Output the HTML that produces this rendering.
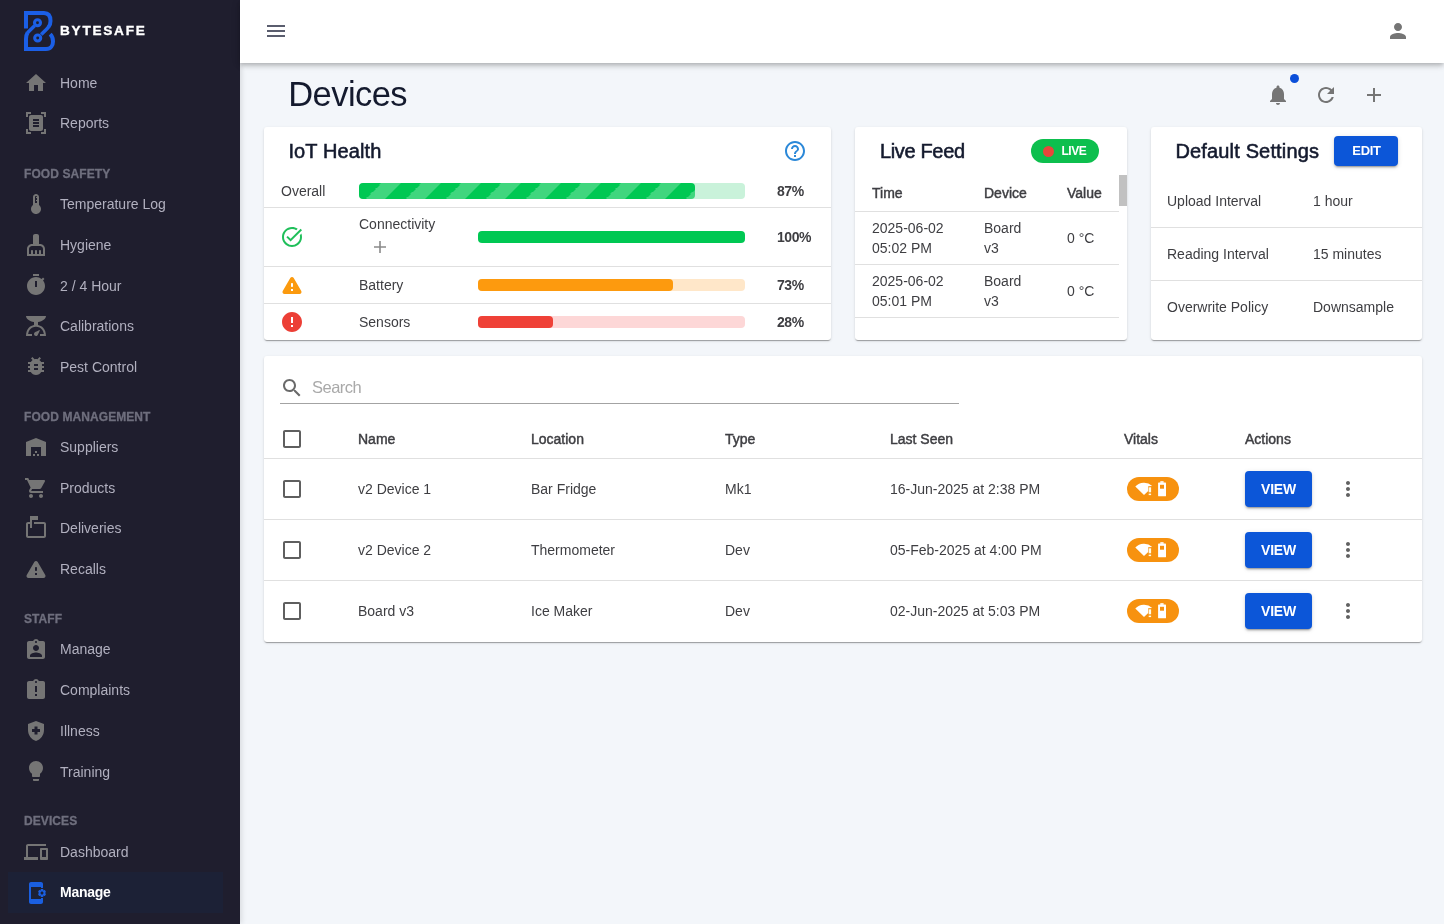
<!DOCTYPE html>
<html><head><meta charset="utf-8"><title>Devices</title>
<style>
html,body{margin:0;padding:0;}
body{width:1444px;height:924px;overflow:hidden;position:relative;background:#f3f6fa;font-family:"Liberation Sans", sans-serif;}
.t{position:absolute;white-space:nowrap;}
svg{display:block}
#root{position:absolute;left:0;top:0;width:1444px;height:924px;will-change:transform;}
</style></head><body><div id="root">
<div style="position:absolute;left:0px;top:0px;width:240px;height:924px;background:#1f1e2e;box-shadow:2px 0 5px rgba(0,0,0,.10)"></div>
<div style="position:absolute;left:8px;top:872px;width:215px;height:41px;background:#1c2136"></div>
<svg style="position:absolute;left:20px;top:8px" width="40" height="46" viewBox="0 0 40 46">
<g fill="none" stroke="#1b5fe6" stroke-width="4">
<path d="M6 20.5 V5 H24 C29 5 30.5 9 30.5 13 C30.5 15.5 29.8 17.5 28.5 19"/>
<path d="M7.6 24.6 C6.5 26.3 6 28 6 31 V41 H26 C31 41 33 37 33 33.5 C33 30.5 32 28 30.2 26.2" />
</g>
<g fill="none" stroke="#1b5fe6" stroke-width="3.5">
<path d="M28.8 18.6 C28 19.6 27.5 20.2 26.8 20.9 L21.2 26.6"/>
<path d="M14.6 17.8 L9 23.3 C8.3 24 7.9 24.5 7.5 25"/>
</g>
<g fill="none" stroke="#1b5fe6" stroke-width="3.1">
<circle cx="17.5" cy="14.7" r="3.0"/>
<circle cx="17.7" cy="30" r="3.0"/>
</g>
</svg>
<div class="t" style="left:60px;top:23.99px;font-size:13.6px;line-height:13.6px;font-weight:900;color:#ffffff;letter-spacing:1.75px;-webkit-text-stroke:0.35px #fff">BYTESAFE</div>
<svg style="position:absolute;left:24px;top:71px;" width="24" height="24" viewBox="0 0 24 24"><path fill="#757575" d="M10 20v-6h4v6h5v-8h3L12 3 2 12h3v8z"/></svg>
<div class="t" style="left:60px;top:76.25px;font-size:14px;line-height:14px;font-weight:400;color:#b1b0bf;">Home</div>
<svg style="position:absolute;left:24px;top:111px;" width="24" height="24" viewBox="0 0 24 24"><path fill="#757575" d="M7 3H4v3H2V1h5v2zm15 3V1h-5v2h3v3h2zM7 21H4v-3H2v5h5v-2zm13-3v3h-3v2h5v-5h-2zM19 18c0 1.1-.9 2-2 2H7c-1.1 0-2-.9-2-2V6c0-1.1.9-2 2-2h10c1.1 0 2 .9 2 2v12zM15 8H9v2h6V8zm0 3H9v2h6v-2zm0 3H9v2h6v-2z"/></svg>
<div class="t" style="left:60px;top:116.15px;font-size:14px;line-height:14px;font-weight:400;color:#b1b0bf;">Reports</div>
<div class="t" style="left:24px;top:167.84px;font-size:12px;line-height:12px;font-weight:700;color:#6f6f7e;letter-spacing:0.08px;-webkit-text-stroke:0.3px #6f6f7e">FOOD SAFETY</div>
<svg style="position:absolute;left:24px;top:192px;" width="24" height="24" viewBox="0 0 24 24"><path fill="#757575" d="M15 13V5c0-1.66-1.34-3-3-3S9 3.34 9 5v8c-1.21.91-2 2.37-2 4 0 2.76 2.24 5 5 5s5-2.24 5-5c0-1.63-.79-3.09-2-4zm-4-8c0-.55.45-1 1-1s1 .45 1 1h-1v1h1v2h-1v1h1v2h-2V5z"/></svg>
<div class="t" style="left:60px;top:197.45px;font-size:14px;line-height:14px;font-weight:400;color:#b1b0bf;">Temperature Log</div>
<svg style="position:absolute;left:24px;top:233px;" width="24" height="24" viewBox="0 0 24 24"><path fill="#757575" d="M16 11h-1V3c0-1.1-.9-2-2-2h-2c-1.1 0-2 .9-2 2v8H8c-2.76 0-5 2.24-5 5v7h18v-7c0-2.76-2.24-5-5-5zm3 10h-2v-3c0-.55-.45-1-1-1s-1 .45-1 1v3h-2v-3c0-.55-.45-1-1-1s-1 .45-1 1v3H9v-3c0-.55-.45-1-1-1s-1 .45-1 1v3H5v-5c0-1.65 1.35-3 3-3h8c1.65 0 3 1.35 3 3v5z"/></svg>
<div class="t" style="left:60px;top:238.15px;font-size:14px;line-height:14px;font-weight:400;color:#b1b0bf;">Hygiene</div>
<svg style="position:absolute;left:24px;top:273px;" width="24" height="24" viewBox="0 0 24 24"><path fill="#757575" d="M9 1h6v2H9zm10.03 6.39 1.42-1.42c-.43-.51-.9-.99-1.41-1.41l-1.42 1.42C16.07 4.74 14.12 4 12 4c-4.97 0-9 4.03-9 9s4.02 9 9 9 9-4.03 9-9c0-2.12-.74-4.07-1.97-5.61zM13 14h-2V8h2v6z"/></svg>
<div class="t" style="left:60px;top:278.65px;font-size:14px;line-height:14px;font-weight:400;color:#b1b0bf;">2 / 4 Hour</div>
<svg style="position:absolute;left:24px;top:314px;" width="24" height="24" viewBox="0 0 24 24"><path fill="#757575" d="M14 11V8c4.56-.58 8-3.1 8-6H2c0 2.9 3.44 5.42 8 6v3c-3.68.73-8 3.61-8 11h6v-2H4.13c.93-6.83 6.65-7.2 7.87-7.2s6.94.37 7.87 7.2H16v2h6c0-7.39-4.32-10.27-8-11zm-2 11c-1.1 0-2-.9-2-2 0-.55.22-1.05.59-1.41C11.39 17.79 16 16 16 16s-1.790 4.61-2.59 5.41c-.36.37-.86.59-1.41.59z"/></svg>
<div class="t" style="left:60px;top:319.15px;font-size:14px;line-height:14px;font-weight:400;color:#b1b0bf;">Calibrations</div>
<svg style="position:absolute;left:24px;top:354px;" width="24" height="24" viewBox="0 0 24 24"><path fill="#757575" d="M20 8h-2.81c-.45-.78-1.07-1.45-1.82-1.96L17 4.41 15.59 3l-2.17 2.17C12.96 5.06 12.49 5 12 5c-.49 0-.96.06-1.41.17L8.41 3 7 4.41l1.62 1.63C7.88 6.55 7.26 7.22 6.81 8H4v2h2.09c-.05.33-.09.66-.09 1v1H4v2h2v1c0 .34.04.67.09 1H4v2h2.81c1.04 1.79 2.97 3 5.19 3s4.15-1.21 5.19-3H20v-2h-2.09c.05-.33.09-.66.09-1v-1h2v-2h-2v-1c0-.34-.04-.67-.09-1H20V8zm-6 8h-4v-2h4v2zm0-4h-4v-2h4v2z"/></svg>
<div class="t" style="left:60px;top:359.55px;font-size:14px;line-height:14px;font-weight:400;color:#b1b0bf;">Pest Control</div>
<div class="t" style="left:24px;top:410.84px;font-size:12px;line-height:12px;font-weight:700;color:#6f6f7e;letter-spacing:0.08px;-webkit-text-stroke:0.3px #6f6f7e">FOOD MANAGEMENT</div>
<svg style="position:absolute;left:24px;top:435px;" width="24" height="24" viewBox="0 0 24 24"><path fill="#757575" d="M22 21V7L12 3 2 7v14h5v-9h10v9h5zm-11-2H9v2h2v-2zm2-3h-2v2h2v-2zm2 3h-2v2h2v-2z"/></svg>
<div class="t" style="left:60px;top:440.45px;font-size:14px;line-height:14px;font-weight:400;color:#b1b0bf;">Suppliers</div>
<svg style="position:absolute;left:24px;top:476px;" width="24" height="24" viewBox="0 0 24 24"><path fill="#757575" d="M7 18c-1.1 0-1.99.9-1.99 2S5.9 22 7 22s2-.9 2-2-.9-2-2-2zM1 2v2h2l3.6 7.59-1.35 2.45c-.16.28-.25.61-.25.96 0 1.1.9 2 2 2h12v-2H7.42c-.14 0-.25-.11-.25-.25l.03-.12.9-1.63h7.45c.75 0 1.41-.41 1.75-1.03l3.58-6.49c.08-.14.12-.31.12-.48 0-.55-.45-1-1-1H5.21l-.94-2H1zm16 16c-1.1 0-1.99.9-1.99 2s.89 2 1.99 2 2-.9 2-2-.9-2-2-2z"/></svg>
<div class="t" style="left:60px;top:481.45px;font-size:14px;line-height:14px;font-weight:400;color:#b1b0bf;">Products</div>
<svg style="position:absolute;left:24px;top:516px;" width="24" height="24" viewBox="0 0 24 24"><path fill="#757575" d="M20 6H10v2h10v12H4V8h2v4h2V4h6V0H6v6H4c-1.1 0-2 .9-2 2v12c0 1.1.9 2 2 2h16c1.1 0 2-.9 2-2V8c0-1.1-.9-2-2-2z"/></svg>
<div class="t" style="left:60px;top:521.25px;font-size:14px;line-height:14px;font-weight:400;color:#b1b0bf;">Deliveries</div>
<svg style="position:absolute;left:24px;top:557px;" width="24" height="24" viewBox="0 0 24 24"><path fill="#757575" d="M4.47 21h15.06c1.54 0 2.5-1.67 1.73-3L13.73 4.99c-.77-1.33-2.69-1.33-3.46 0L2.74 18c-.77 1.33.19 3 1.73 3zM12 14c-.55 0-1-.45-1-1v-2c0-.55.45-1 1-1s1 .45 1 1v2c0 .55-.45 1-1 1zm1 4h-2v-2h2v2z"/></svg>
<div class="t" style="left:60px;top:562.35px;font-size:14px;line-height:14px;font-weight:400;color:#b1b0bf;">Recalls</div>
<div class="t" style="left:24px;top:612.84px;font-size:12px;line-height:12px;font-weight:700;color:#6f6f7e;letter-spacing:0.08px;-webkit-text-stroke:0.3px #6f6f7e">STAFF</div>
<svg style="position:absolute;left:24px;top:638px;" width="24" height="24" viewBox="0 0 24 24"><path fill="#757575" d="M19 3h-4.18C14.4 1.84 13.3 1 12 1c-1.3 0-2.4.84-2.82 2H5c-1.1 0-2 .9-2 2v14c0 1.1.9 2 2 2h14c1.1 0 2-.9 2-2V5c0-1.1-.9-2-2-2zm-7 0c.55 0 1 .45 1 1s-.45 1-1 1-1-.45-1-1 .45-1 1-1zm0 4c1.66 0 3 1.34 3 3s-1.34 3-3 3-3-1.34-3-3 1.34-3 3-3zm6 12H6v-1.4c0-2 4-3.1 6-3.1s6 1.1 6 3.1V19z"/></svg>
<div class="t" style="left:60px;top:642.15px;font-size:14px;line-height:14px;font-weight:400;color:#b1b0bf;">Manage</div>
<svg style="position:absolute;left:24px;top:678px;" width="24" height="24" viewBox="0 0 24 24"><path fill="#757575" d="M19 3h-4.18C14.4 1.84 13.3 1 12 1c-1.3 0-2.4.84-2.82 2H5c-1.1 0-2 .9-2 2v14c0 1.1.9 2 2 2h14c1.1 0 2-.9 2-2V5c0-1.1-.9-2-2-2zm-6 15h-2v-2h2v2zm0-4h-2V8h2v6zm-1-9c-.55 0-1-.45-1-1s.45-1 1-1 1 .45 1 1-.45 1-1 1z"/></svg>
<div class="t" style="left:60px;top:683.45px;font-size:14px;line-height:14px;font-weight:400;color:#b1b0bf;">Complaints</div>
<svg style="position:absolute;left:24px;top:719px;" width="24" height="24" viewBox="0 0 24 24"><path fill="#757575" d="M10.5 13H8v-3h2.5V7.5h3V10H16v3h-2.5v2.5h-3V13zM12 2 4 5v6.09c0 5.05 3.41 9.76 8 10.91 4.59-1.15 8-5.860 8-10.91V5l-8-3z"/></svg>
<div class="t" style="left:60px;top:723.85px;font-size:14px;line-height:14px;font-weight:400;color:#b1b0bf;">Illness</div>
<svg style="position:absolute;left:24px;top:759px;" width="24" height="24" viewBox="0 0 24 24"><path fill="#757575" d="M9 21c0 .55.45 1 1 1h4c.55 0 1-.45 1-1v-1H9v1zm3-19C8.14 2 5 5.14 5 9c0 2.38 1.19 4.47 3 5.74V17c0 .55.45 1 1 1h6c.55 0 1-.45 1-1v-2.26c1.81-1.27 3-3.36 3-5.74 0-3.86-3.14-7-7-7z"/></svg>
<div class="t" style="left:60px;top:764.55px;font-size:14px;line-height:14px;font-weight:400;color:#b1b0bf;">Training</div>
<div class="t" style="left:24px;top:814.84px;font-size:12px;line-height:12px;font-weight:700;color:#6f6f7e;letter-spacing:0.08px;-webkit-text-stroke:0.3px #6f6f7e">DEVICES</div>
<svg style="position:absolute;left:24px;top:840px;" width="24" height="24" viewBox="0 0 24 24"><path fill="#757575" d="M4 6h18V4H4c-1.1 0-2 .9-2 2v11H0v3h14v-3H4V6zm19 2h-6c-.55 0-1 .45-1 1v10c0 .55.45 1 1 1h6c.55 0 1-.45 1-1V9c0-.55-.45-1-1-1zm-1 9h-4v-7h4v7z"/></svg>
<div class="t" style="left:60px;top:845.15px;font-size:14px;line-height:14px;font-weight:400;color:#b1b0bf;">Dashboard</div>
<svg style="position:absolute;left:24px;top:881px;" width="24" height="24" viewBox="0 0 24 24"><path fill="#1a5fe0" d="M21.81 12.74l-.82-.63v-.22l.8-.63c.16-.12.2-.34.1-.51l-.85-1.48c-.07-.13-.21-.2-.35-.2-.05 0-.1.01-.15.03l-.95.38c-.08-.05-.11-.07-.19-.11l-.15-1.01c-.03-.21-.2-.36-.4-.36h-1.71c-.2 0-.37.15-.4.34l-.14 1.01c-.03.02-.07.03-.1.05l-.09.06-.95-.38c-.05-.02-.1-.03-.15-.03-.14 0-.27.07-.35.2l-.85 1.48c-.1.17-.06.39.1.51l.8.63v.23l-.8.63c-.16.12-.2.34-.1.51l.85 1.48c.07.13.21.2.35.2.05 0 .1-.01.15-.03l.95-.37c.08.05.12.07.2.11l.15 1.01c.03.2.2.34.4.34h1.71c.2 0 .37-.15.4-.34l.15-1.01c.03-.02.07-.03.1-.05l.09-.06.95.38c.05.02.1.03.15.03.14 0 .27-.07.35-.2l.85-1.48c.1-.17.06-.39-.1-.51zM18 13.5c-.83 0-1.5-.67-1.5-1.5s.67-1.5 1.5-1.5 1.5.67 1.5 1.5-.67 1.5-1.5 1.5zM17 17h2v4c0 1.1-.9 2-2 2H7c-1.1 0-2-.9-2-2V3c0-1.1.9-2 2-2h10c1.1 0 2 .9 2 2v4h-2V6H7v12h10v-1z"/></svg>
<div class="t" style="left:60px;top:885.05px;font-size:14px;line-height:14px;font-weight:700;color:#ffffff;letter-spacing:-0.25px">Manage</div>
<div style="position:absolute;left:240px;top:0px;width:1204px;height:63px;background:#fff;box-shadow:0 2px 4px -1px rgba(0,0,0,.18),0 4px 5px 0 rgba(0,0,0,.11),0 1px 10px 0 rgba(0,0,0,.09);z-index:2"></div>
<svg style="position:absolute;left:264px;top:19px;z-index:3" width="24" height="24" viewBox="0 0 24 24"><path fill="#5a5d6e" d="M3 18h18v-2H3v2zm0-5h18v-2H3v2zm0-7v2h18V6H3z"/></svg>
<svg style="position:absolute;left:1386px;top:19px;z-index:3" width="24" height="24" viewBox="0 0 24 24"><path fill="#757575" d="M12 12c2.21 0 4-1.79 4-4s-1.79-4-4-4-4 1.79-4 4 1.79 4 4 4zm0 2c-2.67 0-8 1.34-8 4v2h16v-2c0-2.66-5.33-4-8-4z"/></svg>
<div class="t" style="left:288.2px;top:76.80px;font-size:34.5px;line-height:34.5px;font-weight:400;color:#141a2e;letter-spacing:-0.55px">Devices</div>
<svg style="position:absolute;left:1266px;top:83px;" width="24" height="24" viewBox="0 0 24 24"><path fill="#757575" d="M12 22c1.1 0 2-.9 2-2h-4c0 1.1.89 2 2 2zm6-6v-5c0-3.07-1.64-5.64-4.5-6.32V4c0-.83-.67-1.5-1.5-1.5s-1.5.67-1.5 1.5v.68C7.63 5.36 6 7.92 6 11v5l-2 2v1h16v-1l-2-2z"/></svg>
<div style="position:absolute;left:1290px;top:74px;width:9px;height:9px;background:#0b4fd9;border-radius:50%"></div>
<svg style="position:absolute;left:1314px;top:83px;" width="24" height="24" viewBox="0 0 24 24"><path fill="#757575" d="M17.65 6.35C16.2 4.9 14.21 4 12 4c-4.42 0-7.99 3.58-7.99 8s3.57 8 7.99 8c3.73 0 6.84-2.550 7.73-6h-2.08c-.82 2.33-3.04 4-5.65 4-3.31 0-6-2.69-6-6s2.69-6 6-6c1.66 0 3.14.69 4.22 1.78L13 11h7V4l-2.35 2.35z"/></svg>
<svg style="position:absolute;left:1362px;top:83px;" width="24" height="24" viewBox="0 0 24 24"><path fill="#757575" d="M19 13h-6v6h-2v-6H5v-2h6V5h2v6h6v2z"/></svg>
<div style="position:absolute;left:264px;top:127px;width:567px;height:213px;background:#fff;border-radius:3px;box-shadow:0 2px 1px -1px rgba(0,0,0,.2),0 1px 1px 0 rgba(0,0,0,.14),0 1px 3px 0 rgba(0,0,0,.12)"></div>
<div class="t" style="left:288.4px;top:141.37px;font-size:20px;line-height:20px;font-weight:400;color:#141a2e;-webkit-text-stroke:0.55px #141a2e;letter-spacing:0.12px">IoT Health</div>
<svg style="position:absolute;left:783px;top:139px;" width="24" height="24" viewBox="0 0 24 24"><path fill="#2b88d8" d="M11 18h2v-2h-2v2zm1-16C6.48 2 2 6.48 2 12s4.48 10 10 10 10-4.48 10-10S17.52 2 12 2zm0 18c-4.41 0-8-3.59-8-8s3.59-8 8-8 8 3.59 8 8-3.59 8-8 8zm0-14c-2.21 0-4 1.79-4 4h2c0-1.1.9-2 2-2s2 .9 2 2c0 2-3 1.75-3 5h2c0-2.25 3-2.5 3-5 0-2.21-1.79-4-4-4z"/></svg>
<div class="t" style="left:281px;top:184.15px;font-size:14px;line-height:14px;font-weight:400;color:#3e3e42;">Overall</div>
<div style="position:absolute;left:359px;top:183px;width:386px;height:16px;background:#c9f2da;border-radius:4px"></div>
<div style="position:absolute;left:359px;top:183px;width:336px;height:16px;background-color:#00c853;background-image:linear-gradient(-45deg,rgba(255,255,255,.25) 25%,transparent 25%,transparent 50%,rgba(255,255,255,.25) 50%,rgba(255,255,255,.25) 75%,transparent 75%,transparent);background-size:40px 40px;background-position:2.5px 0;border-radius:4px"></div>
<div class="t" style="left:777px;top:183.95px;font-size:14px;line-height:14px;font-weight:700;color:#3e3e42;letter-spacing:-0.45px">87%</div>
<div style="position:absolute;left:264px;top:207px;width:567px;height:1px;background:#e0e0e0"></div>
<svg style="position:absolute;left:280px;top:225px;" width="24" height="24" viewBox="0 0 24 24"><path fill="#1fbf5a" d="M22 5.18 10.59 16.6l-4.24-4.24 1.41-1.41 2.83 2.83 10-10L22 5.18zm-2.21 5.04c.13.57.21 1.17.21 1.78 0 4.42-3.58 8-8 8s-8-3.58-8-8 3.58-8 8-8c1.58 0 3.04.46 4.28 1.25l1.44-1.44C16.1 2.67 14.13 2 12 2 6.48 2 2 6.48 2 12s4.48 10 10 10 10-4.48 10-10c0-1.19-.22-2.33-.6-3.39l-1.61 1.61z"/></svg>
<div class="t" style="left:359px;top:217.35px;font-size:14px;line-height:14px;font-weight:400;color:#3e3e42;">Connectivity</div>
<svg style="position:absolute;left:374px;top:240.5px" width="12" height="12" viewBox="0 0 12 12"><path d="M6 0V12M0 6H12" stroke="#8a8a8a" stroke-width="1.6"/></svg>
<div style="position:absolute;left:478px;top:231px;width:267px;height:12px;background:#00c853;border-radius:4px"></div>
<div class="t" style="left:777px;top:229.95px;font-size:14px;line-height:14px;font-weight:700;color:#3e3e42;letter-spacing:-0.45px">100%</div>
<div style="position:absolute;left:264px;top:266px;width:567px;height:1px;background:#e0e0e0"></div>
<svg style="position:absolute;left:280px;top:273px;" width="24" height="24" viewBox="0 0 24 24"><path fill="#fb9a0e" d="M4.47 21h15.06c1.54 0 2.5-1.67 1.73-3L13.73 4.99c-.77-1.33-2.69-1.33-3.46 0L2.74 18c-.77 1.33.19 3 1.73 3zM12 14c-.55 0-1-.45-1-1v-2c0-.55.45-1 1-1s1 .45 1 1v2c0 .55-.45 1-1 1zm1 4h-2v-2h2v2z"/></svg>
<div class="t" style="left:359px;top:278.15px;font-size:14px;line-height:14px;font-weight:400;color:#3e3e42;">Battery</div>
<div style="position:absolute;left:478px;top:279px;width:267px;height:12px;background:#ffe7c9;border-radius:4px"></div>
<div style="position:absolute;left:478px;top:279px;width:195px;height:12px;background:#fd9a0e;border-radius:4px"></div>
<div class="t" style="left:777px;top:277.75px;font-size:14px;line-height:14px;font-weight:700;color:#3e3e42;letter-spacing:-0.45px">73%</div>
<div style="position:absolute;left:264px;top:303px;width:567px;height:1px;background:#e0e0e0"></div>
<svg style="position:absolute;left:280px;top:310px;" width="24" height="24" viewBox="0 0 24 24"><path fill="#ec3f36" d="M12 2C6.48 2 2 6.48 2 12s4.48 10 10 10 10-4.48 10-10S17.52 2 12 2zm1 15h-2v-2h2v2zm0-4h-2V7h2v6z"/></svg>
<div class="t" style="left:359px;top:314.85px;font-size:14px;line-height:14px;font-weight:400;color:#3e3e42;">Sensors</div>
<div style="position:absolute;left:478px;top:316px;width:267px;height:12px;background:#fdd7d7;border-radius:4px"></div>
<div style="position:absolute;left:478px;top:316px;width:75px;height:12px;background:#ef4137;border-radius:4px"></div>
<div class="t" style="left:777px;top:315.15px;font-size:14px;line-height:14px;font-weight:700;color:#3e3e42;letter-spacing:-0.45px">28%</div>
<div style="position:absolute;left:855px;top:127px;width:272px;height:213px;background:#fff;border-radius:3px;box-shadow:0 2px 1px -1px rgba(0,0,0,.2),0 1px 1px 0 rgba(0,0,0,.14),0 1px 3px 0 rgba(0,0,0,.12);overflow:hidden"></div>
<div class="t" style="left:880px;top:141.37px;font-size:20px;line-height:20px;font-weight:400;color:#141a2e;-webkit-text-stroke:0.55px #141a2e;letter-spacing:-0.35px">Live Feed</div>
<div style="position:absolute;left:1031px;top:139px;width:68px;height:24px;background:#0dbf4e;border-radius:12px"></div>
<div style="position:absolute;left:1042.5px;top:145.5px;width:11px;height:11px;background:#e8473b;border-radius:50%"></div>
<div class="t" style="left:1061.5px;top:145.34px;font-size:12px;line-height:12px;font-weight:700;color:#ffffff;letter-spacing:-0.5px">LIVE</div>
<div class="t" style="left:872px;top:186.15px;font-size:14px;line-height:14px;font-weight:400;color:#3e3e42;-webkit-text-stroke:0.45px #3e3e42;">Time</div>
<div class="t" style="left:984px;top:186.15px;font-size:14px;line-height:14px;font-weight:400;color:#3e3e42;-webkit-text-stroke:0.45px #3e3e42;">Device</div>
<div class="t" style="left:1067px;top:186.15px;font-size:14px;line-height:14px;font-weight:400;color:#3e3e42;-webkit-text-stroke:0.45px #3e3e42;">Value</div>
<div style="position:absolute;left:855px;top:211px;width:264px;height:1px;background:#e0e0e0"></div>
<div class="t" style="left:872px;top:221.45px;font-size:14px;line-height:14px;font-weight:400;color:#3e3e42;">2025-06-02</div>
<div class="t" style="left:872px;top:241.35px;font-size:14px;line-height:14px;font-weight:400;color:#3e3e42;">05:02 PM</div>
<div class="t" style="left:984px;top:221.45px;font-size:14px;line-height:14px;font-weight:400;color:#3e3e42;">Board</div>
<div class="t" style="left:984px;top:241.35px;font-size:14px;line-height:14px;font-weight:400;color:#3e3e42;">v3</div>
<div class="t" style="left:1067px;top:231.35px;font-size:14px;line-height:14px;font-weight:400;color:#3e3e42;">0 °C</div>
<div style="position:absolute;left:855px;top:264px;width:264px;height:1px;background:#e0e0e0"></div>
<div class="t" style="left:872px;top:274.15px;font-size:14px;line-height:14px;font-weight:400;color:#3e3e42;">2025-06-02</div>
<div class="t" style="left:872px;top:293.65px;font-size:14px;line-height:14px;font-weight:400;color:#3e3e42;">05:01 PM</div>
<div class="t" style="left:984px;top:274.15px;font-size:14px;line-height:14px;font-weight:400;color:#3e3e42;">Board</div>
<div class="t" style="left:984px;top:293.65px;font-size:14px;line-height:14px;font-weight:400;color:#3e3e42;">v3</div>
<div class="t" style="left:1067px;top:283.65px;font-size:14px;line-height:14px;font-weight:400;color:#3e3e42;">0 °C</div>
<div style="position:absolute;left:855px;top:317px;width:264px;height:1px;background:#e0e0e0"></div>
<div style="position:absolute;left:1119px;top:175px;width:8px;height:31px;background:#c1c1c1"></div>
<div style="position:absolute;left:1151px;top:127px;width:271px;height:213px;background:#fff;border-radius:3px;box-shadow:0 2px 1px -1px rgba(0,0,0,.2),0 1px 1px 0 rgba(0,0,0,.14),0 1px 3px 0 rgba(0,0,0,.12)"></div>
<div class="t" style="left:1175.5px;top:141.37px;font-size:20px;line-height:20px;font-weight:400;color:#141a2e;-webkit-text-stroke:0.55px #141a2e;letter-spacing:0.15px">Default Settings</div>
<div style="position:absolute;left:1334px;top:136px;width:64px;height:30px;background:#0c56d8;border-radius:4px;box-shadow:0 3px 1px -2px rgba(0,0,0,.2),0 2px 2px 0 rgba(0,0,0,.14),0 1px 5px 0 rgba(0,0,0,.12)"></div>
<div class="t" style="left:1352.3px;top:144.00px;font-size:13px;line-height:13px;font-weight:700;color:#ffffff;letter-spacing:-0.3px">EDIT</div>
<div class="t" style="left:1167px;top:194.15px;font-size:14px;line-height:14px;font-weight:400;color:#3e3e42;">Upload Interval</div>
<div class="t" style="left:1313px;top:194.15px;font-size:14px;line-height:14px;font-weight:400;color:#3e3e42;">1 hour</div>
<div style="position:absolute;left:1151px;top:227px;width:271px;height:1px;background:#e0e0e0"></div>
<div class="t" style="left:1167px;top:247.15px;font-size:14px;line-height:14px;font-weight:400;color:#3e3e42;">Reading Interval</div>
<div class="t" style="left:1313px;top:247.15px;font-size:14px;line-height:14px;font-weight:400;color:#3e3e42;">15 minutes</div>
<div style="position:absolute;left:1151px;top:280px;width:271px;height:1px;background:#e0e0e0"></div>
<div class="t" style="left:1167px;top:300.15px;font-size:14px;line-height:14px;font-weight:400;color:#3e3e42;">Overwrite Policy</div>
<div class="t" style="left:1313px;top:300.15px;font-size:14px;line-height:14px;font-weight:400;color:#3e3e42;">Downsample</div>
<div style="position:absolute;left:264px;top:356px;width:1158px;height:286px;background:#fff;border-radius:3px;box-shadow:0 2px 1px -1px rgba(0,0,0,.2),0 1px 1px 0 rgba(0,0,0,.14),0 1px 3px 0 rgba(0,0,0,.12)"></div>
<svg style="position:absolute;left:280px;top:375.5px;" width="24" height="24" viewBox="0 0 24 24"><path fill="#6a6a6a" d="M15.5 14h-.79l-.28-.27C15.41 12.59 16 11.11 16 9.5 16 5.91 13.09 3 9.5 3S3 5.91 3 9.5 5.91 16 9.5 16c1.61 0 3.09-.59 4.23-1.57l.27.28v.79l5 4.99L20.49 19l-4.99-5zm-6 0C7.01 14 5 11.990 5 9.5S7.01 5 9.5 5 14 7.01 14 9.5 11.99 14 9.5 14z"/></svg>
<div class="t" style="left:312px;top:379.33px;font-size:16.5px;line-height:16.5px;font-weight:400;color:#a9a9a9;letter-spacing:-0.5px">Search</div>
<div style="position:absolute;left:280px;top:403px;width:679px;height:1px;background:#a3a3a3"></div>
<svg style="position:absolute;left:280px;top:427px;" width="24" height="24" viewBox="0 0 24 24"><path fill="#5f5f5f" d="M19 5v14H5V5h14m0-2H5c-1.1 0-2 .9-2 2v14c0 1.1.9 2 2 2h14c1.1 0 2-.9 2-2V5c0-1.1-.9-2-2-2z"/></svg>
<div class="t" style="left:358px;top:431.75px;font-size:14px;line-height:14px;font-weight:400;color:#3e3e42;-webkit-text-stroke:0.45px #3e3e42;">Name</div>
<div class="t" style="left:531px;top:431.75px;font-size:14px;line-height:14px;font-weight:400;color:#3e3e42;-webkit-text-stroke:0.45px #3e3e42;">Location</div>
<div class="t" style="left:725px;top:431.75px;font-size:14px;line-height:14px;font-weight:400;color:#3e3e42;-webkit-text-stroke:0.45px #3e3e42;">Type</div>
<div class="t" style="left:890px;top:431.75px;font-size:14px;line-height:14px;font-weight:400;color:#3e3e42;-webkit-text-stroke:0.45px #3e3e42;">Last Seen</div>
<div class="t" style="left:1124px;top:431.75px;font-size:14px;line-height:14px;font-weight:400;color:#3e3e42;-webkit-text-stroke:0.45px #3e3e42;">Vitals</div>
<div class="t" style="left:1245px;top:431.75px;font-size:14px;line-height:14px;font-weight:400;color:#3e3e42;-webkit-text-stroke:0.45px #3e3e42;">Actions</div>
<div style="position:absolute;left:264px;top:458px;width:1158px;height:1px;background:#e0e0e0"></div>
<svg style="position:absolute;left:280px;top:477px;" width="24" height="24" viewBox="0 0 24 24"><path fill="#5f5f5f" d="M19 5v14H5V5h14m0-2H5c-1.1 0-2 .9-2 2v14c0 1.1.9 2 2 2h14c1.1 0 2-.9 2-2V5c0-1.1-.9-2-2-2z"/></svg>
<div class="t" style="left:358px;top:482.15px;font-size:14px;line-height:14px;font-weight:400;color:#3e3e42;">v2 Device 1</div>
<div class="t" style="left:531px;top:482.15px;font-size:14px;line-height:14px;font-weight:400;color:#3e3e42;">Bar Fridge</div>
<div class="t" style="left:725px;top:482.15px;font-size:14px;line-height:14px;font-weight:400;color:#3e3e42;">Mk1</div>
<div class="t" style="left:890px;top:482.15px;font-size:14px;line-height:14px;font-weight:400;color:#3e3e42;">16-Jun-2025 at 2:38 PM</div>
<div style="position:absolute;left:1127px;top:477px;width:52px;height:24px;background:#f7920f;border-radius:12px"></div>
<svg style="position:absolute;left:1124px;top:474px" width="58" height="30" viewBox="0 0 58 30">
<path fill="#fff" d="M20 21 L11.3 12.6 A12 12 0 0 1 28.2 11.9 L24.2 12.2 L24.2 17 Z"/>
<rect x="24.7" y="13.3" width="2.4" height="5" fill="#fffbe6"/><rect x="24.7" y="19.6" width="2.4" height="1.5" fill="#fffbe6"/>
<rect x="34.1" y="8.6" width="7.9" height="13.7" rx="0.6" fill="#fff"/><rect x="36.3" y="7.2" width="3.3" height="1.6" fill="#fff"/>
<rect x="36" y="10.8" width="4" height="3.9" fill="#f7920f"/>
</svg>
<div style="position:absolute;left:1245px;top:471px;width:67px;height:36px;background:#0c56d8;border-radius:4px;box-shadow:0 3px 1px -2px rgba(0,0,0,.2),0 2px 2px 0 rgba(0,0,0,.14),0 1px 5px 0 rgba(0,0,0,.12)"></div>
<div class="t" style="left:1261px;top:481.65px;font-size:14px;line-height:14px;font-weight:700;color:#ffffff;letter-spacing:-0.2px">VIEW</div>
<svg style="position:absolute;left:1336px;top:477px;" width="24" height="24" viewBox="0 0 24 24"><path fill="#616161" d="M12 8c1.1 0 2-.9 2-2s-.9-2-2-2-2 .9-2 2 .9 2 2 2zm0 2c-1.1 0-2 .9-2 2s.9 2 2 2 2-.9 2-2-.9-2-2-2zm0 6c-1.1 0-2 .9-2 2s.9 2 2 2 2-.9 2-2-.9-2-2-2z"/></svg>
<div style="position:absolute;left:264px;top:519px;width:1158px;height:1px;background:#e0e0e0"></div>
<svg style="position:absolute;left:280px;top:538px;" width="24" height="24" viewBox="0 0 24 24"><path fill="#5f5f5f" d="M19 5v14H5V5h14m0-2H5c-1.1 0-2 .9-2 2v14c0 1.1.9 2 2 2h14c1.1 0 2-.9 2-2V5c0-1.1-.9-2-2-2z"/></svg>
<div class="t" style="left:358px;top:543.15px;font-size:14px;line-height:14px;font-weight:400;color:#3e3e42;">v2 Device 2</div>
<div class="t" style="left:531px;top:543.15px;font-size:14px;line-height:14px;font-weight:400;color:#3e3e42;">Thermometer</div>
<div class="t" style="left:725px;top:543.15px;font-size:14px;line-height:14px;font-weight:400;color:#3e3e42;">Dev</div>
<div class="t" style="left:890px;top:543.15px;font-size:14px;line-height:14px;font-weight:400;color:#3e3e42;">05-Feb-2025 at 4:00 PM</div>
<div style="position:absolute;left:1127px;top:538px;width:52px;height:24px;background:#f7920f;border-radius:12px"></div>
<svg style="position:absolute;left:1124px;top:535px" width="58" height="30" viewBox="0 0 58 30">
<path fill="#fff" d="M20 21 L11.3 12.6 A12 12 0 0 1 28.2 11.9 L24.2 12.2 L24.2 17 Z"/>
<rect x="24.7" y="13.3" width="2.4" height="5" fill="#fffbe6"/><rect x="24.7" y="19.6" width="2.4" height="1.5" fill="#fffbe6"/>
<rect x="34.1" y="8.6" width="7.9" height="13.7" rx="0.6" fill="#fff"/><rect x="36.3" y="7.2" width="3.3" height="1.6" fill="#fff"/>
<rect x="36" y="10.8" width="4" height="3.9" fill="#f7920f"/>
</svg>
<div style="position:absolute;left:1245px;top:532px;width:67px;height:36px;background:#0c56d8;border-radius:4px;box-shadow:0 3px 1px -2px rgba(0,0,0,.2),0 2px 2px 0 rgba(0,0,0,.14),0 1px 5px 0 rgba(0,0,0,.12)"></div>
<div class="t" style="left:1261px;top:542.65px;font-size:14px;line-height:14px;font-weight:700;color:#ffffff;letter-spacing:-0.2px">VIEW</div>
<svg style="position:absolute;left:1336px;top:538px;" width="24" height="24" viewBox="0 0 24 24"><path fill="#616161" d="M12 8c1.1 0 2-.9 2-2s-.9-2-2-2-2 .9-2 2 .9 2 2 2zm0 2c-1.1 0-2 .9-2 2s.9 2 2 2 2-.9 2-2-.9-2-2-2zm0 6c-1.1 0-2 .9-2 2s.9 2 2 2 2-.9 2-2-.9-2-2-2z"/></svg>
<div style="position:absolute;left:264px;top:580px;width:1158px;height:1px;background:#e0e0e0"></div>
<svg style="position:absolute;left:280px;top:599px;" width="24" height="24" viewBox="0 0 24 24"><path fill="#5f5f5f" d="M19 5v14H5V5h14m0-2H5c-1.1 0-2 .9-2 2v14c0 1.1.9 2 2 2h14c1.1 0 2-.9 2-2V5c0-1.1-.9-2-2-2z"/></svg>
<div class="t" style="left:358px;top:604.15px;font-size:14px;line-height:14px;font-weight:400;color:#3e3e42;">Board v3</div>
<div class="t" style="left:531px;top:604.15px;font-size:14px;line-height:14px;font-weight:400;color:#3e3e42;">Ice Maker</div>
<div class="t" style="left:725px;top:604.15px;font-size:14px;line-height:14px;font-weight:400;color:#3e3e42;">Dev</div>
<div class="t" style="left:890px;top:604.15px;font-size:14px;line-height:14px;font-weight:400;color:#3e3e42;">02-Jun-2025 at 5:03 PM</div>
<div style="position:absolute;left:1127px;top:599px;width:52px;height:24px;background:#f7920f;border-radius:12px"></div>
<svg style="position:absolute;left:1124px;top:596px" width="58" height="30" viewBox="0 0 58 30">
<path fill="#fff" d="M20 21 L11.3 12.6 A12 12 0 0 1 28.2 11.9 L24.2 12.2 L24.2 17 Z"/>
<rect x="24.7" y="13.3" width="2.4" height="5" fill="#fffbe6"/><rect x="24.7" y="19.6" width="2.4" height="1.5" fill="#fffbe6"/>
<rect x="34.1" y="8.6" width="7.9" height="13.7" rx="0.6" fill="#fff"/><rect x="36.3" y="7.2" width="3.3" height="1.6" fill="#fff"/>
<rect x="36" y="10.8" width="4" height="3.9" fill="#f7920f"/>
</svg>
<div style="position:absolute;left:1245px;top:593px;width:67px;height:36px;background:#0c56d8;border-radius:4px;box-shadow:0 3px 1px -2px rgba(0,0,0,.2),0 2px 2px 0 rgba(0,0,0,.14),0 1px 5px 0 rgba(0,0,0,.12)"></div>
<div class="t" style="left:1261px;top:603.65px;font-size:14px;line-height:14px;font-weight:700;color:#ffffff;letter-spacing:-0.2px">VIEW</div>
<svg style="position:absolute;left:1336px;top:599px;" width="24" height="24" viewBox="0 0 24 24"><path fill="#616161" d="M12 8c1.1 0 2-.9 2-2s-.9-2-2-2-2 .9-2 2 .9 2 2 2zm0 2c-1.1 0-2 .9-2 2s.9 2 2 2 2-.9 2-2-.9-2-2-2zm0 6c-1.1 0-2 .9-2 2s.9 2 2 2 2-.9 2-2-.9-2-2-2z"/></svg>
</div></body></html>
